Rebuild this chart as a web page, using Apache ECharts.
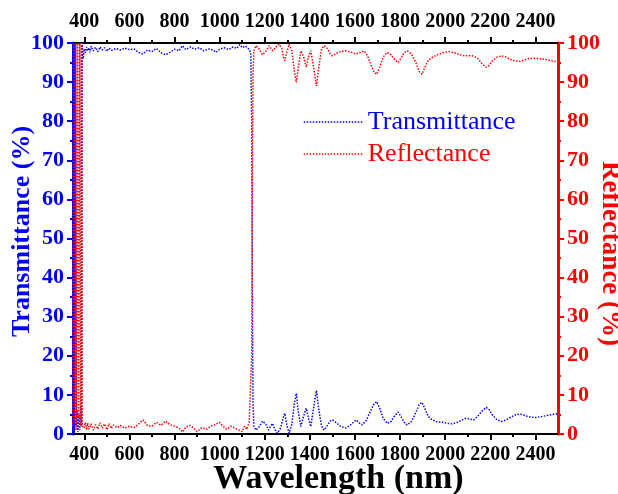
<!DOCTYPE html>
<html>
<head>
<meta charset="utf-8">
<style>
  html, body { margin: 0; padding: 0; background: #fff; }
  #chart { width: 618px; height: 494px; }
</style>
<script src="https://cdn.jsdelivr.net/npm/echarts@6/dist/echarts.min.js"></script>
</head>
<body>
<div id="chart"></div>
<script>
// Transmittance spectrum (%), wavelength in nm
const transWavelength = [
  350, 354, 358, 361, 364, 368, 372, 376, 380, 384, 388, 391, 395,
  400, 405, 410, 415, 420, 425, 430, 440, 450, 460, 470, 480, 490, 500, 510, 520, 540,
  560, 580, 600, 620, 640, 660, 680, 700, 720, 740, 760, 780, 800, 820, 835, 850, 870,
  890, 910, 930, 950, 970, 985, 1000, 1020, 1040, 1060, 1075, 1090, 1100, 1115, 1130,
  1138, 1142, 1145, 1148, 1152, 1161, 1175, 1190, 1197, 1205, 1217, 1226, 1234, 1245,
  1256, 1270, 1282, 1289, 1297, 1308, 1320, 1332, 1340, 1348, 1360, 1372, 1384, 1394,
  1404, 1416, 1429, 1440, 1452, 1463, 1478, 1490, 1500, 1515, 1535, 1559, 1580, 1605,
  1620, 1632, 1650, 1670, 1685, 1696, 1710, 1725, 1743, 1760, 1775, 1791, 1805, 1818,
  1831, 1850, 1870, 1885, 1897, 1910, 1925, 1942, 1965, 1990, 2010, 2030, 2055, 2075,
  2089, 2105, 2126, 2145, 2165, 2182, 2195, 2210, 2230, 2251, 2270, 2290, 2312, 2332,
  2350, 2370, 2399, 2430, 2460, 2487, 2500
];
const transValues = [
  3, 7, 1, 100, 2, 6, 0.5, 5, 1, 7, 2, 100, 96,
  98.5, 97.5, 99, 98, 98.8, 97.6, 99.2, 98, 98.9, 97.8, 99, 98.2, 98.8, 97.9, 98.7, 98.1, 98.6,
  98.2, 98.7, 98.3, 98.5, 97.6, 97.2, 98.2, 97.8, 98.6, 97.5, 97.0, 97.6, 98.4, 98.0, 99.3, 98.3, 99.0,
  98.4, 98.8, 98.0, 98.5, 98.2, 97.6, 98.4, 98.8, 98.3, 99.0, 98.6, 99.6, 98.8, 99.2, 98.4,
  97.5, 80, 40, 8, 2, 1, 1.8, 3.3, 3.6, 2.5, 1, 2, 2.7, 1.2,
  0.2, 1.5, 4.2, 5.3, 2.5, 0.2, 2.5, 8, 10.4, 6, 1.9, 4.5, 6.6, 4,
  1.9, 6.5, 11.1, 6, 2, 1, 2.2, 3.3, 3.6, 3, 2, 1.5, 2.3, 3.6,
  2.8, 2.3, 3.5, 6, 7.8, 8.3, 6.5, 4, 2.7, 3.2, 4.6, 5.6, 4.4, 3,
  2.3, 3.2, 5.5, 7.6, 8.1, 6.5, 4.5, 3.6, 3.1, 3.0, 2.7, 2.6, 3.0, 3.6,
  4.0, 3.9, 3.6, 4.6, 6.0, 6.8, 6.2, 4.8, 3.6, 3.2, 3.6, 4.3, 4.9, 5.1,
  4.8, 4.4, 4.2, 4.5, 4.8, 5.1, 5.2
];

// Reflectance spectrum (%), wavelength in nm
const reflWavelength = [
  350, 353, 357, 362, 366, 371, 375, 380, 384, 388, 391,
  395, 400, 405, 410, 415, 420, 430, 440, 450, 460, 470, 480, 490, 500, 510, 520, 530,
  545, 560, 580, 600, 620, 640, 660, 680, 700, 720, 740, 760, 780, 800, 820, 836, 850,
  870, 890, 900, 920, 944, 960, 980, 998, 1015, 1030, 1050, 1070, 1086, 1100, 1110, 1120,
  1131, 1138, 1142, 1145, 1148, 1152, 1161, 1175, 1190, 1197, 1207, 1219, 1228, 1236,
  1250, 1264, 1276, 1282, 1289, 1297, 1308, 1320, 1332, 1340, 1348, 1360, 1372, 1384,
  1394, 1404, 1416, 1429, 1440, 1452, 1463, 1478, 1490, 1500, 1515, 1535, 1559, 1580,
  1605, 1620, 1640, 1655, 1670, 1685, 1696, 1710, 1725, 1743, 1760, 1775, 1791, 1805,
  1818, 1831, 1850, 1870, 1885, 1897, 1910, 1925, 1942, 1965, 1990, 2015, 2040, 2065,
  2089, 2105, 2126, 2145, 2165, 2182, 2195, 2210, 2230, 2251, 2270, 2290, 2312, 2332,
  2350, 2370, 2399, 2430, 2460, 2487, 2500
];
const reflValues = [
  2, 100, 3, 100, 1, 100, 4, 100, 2, 100, 2,
  2.5, 1.5, 3, 1, 2.8, 1.2, 2.6, 1.0, 2.4, 1.3, 2.9, 1.5, 2.6, 1.1, 2.7, 1.4, 2.3,
  1.6, 2.2, 1.5, 2.0, 1.6, 2.5, 3.6, 2.2, 2.0, 3.0, 2.2, 3.3, 2.4, 2.0, 1.5, 0.5, 1.8,
  2.2, 1.2, 0.6, 1.6, 1.2, 2.0, 2.4, 3.0, 2.0, 1.2, 2.0, 1.4, 1.0, 0.6, 2.0, 1.2,
  3.0, 3.5, 20, 60, 92, 98, 99.3, 98.5, 97, 96.7, 98, 99.3, 98.6, 98,
  99, 99.7, 98.5, 96.5, 95.5, 97.5, 99.7, 98, 92.5, 89.9, 93.5, 98, 96.5, 93.8,
  96.5, 98, 94, 89, 94, 98.5, 99.3, 98.6, 97.2, 96.7, 97.3, 97.8, 98, 97.7,
  97.2, 97.5, 98, 96.8, 94.5, 92.5, 92, 93.8, 96.4, 97.6, 97, 95.8, 95, 96.2,
  97.5, 98, 97.2, 95, 92.7, 92, 93.8, 95.6, 96.3, 97, 97.5, 97.8, 97.5, 97,
  96.7, 96.8, 96.7, 96, 94.6, 93.8, 94.3, 95.5, 96.4, 96.7, 96.4, 95.8, 95.4, 95.3,
  95.6, 96, 96.1, 95.9, 95.6, 95.3, 95.2
];

// Axis tick positions
const xMajorTicks = [400, 600, 800, 1000, 1200, 1400, 1600, 1800, 2000, 2200, 2400];
const xMinorTicks = [500, 700, 900, 1100, 1300, 1500, 1700, 1900, 2100, 2300];

const BLUE = '#0000ff';
const RED = '#ff0000';
const FONT = '"Liberation Serif", "Times New Roman", serif';

const pairs = (xs, ys) => xs.map((x, i) => [x, ys[i]]);
const plain = (v) => String(v);

const chart = echarts.init(document.getElementById('chart'), null, { renderer: 'canvas' });

const tickLabel = {
  fontFamily: FONT, fontWeight: 'bold', fontSize: 20, color: '#000'
};

function xAxisDef(position, ticks, length, withLabels, extra) {
  return Object.assign({
    type: 'value', min: 350, max: 2500, position: position,
    splitLine: { show: false },
    axisLine: { show: withLabels, onZero: false, lineStyle: { color: '#000', width: 2 } },
    axisTick: { show: true, inside: false, customValues: ticks, length: length,
                lineStyle: { color: '#000', width: 2 } },
    axisLabel: withLabels
      ? Object.assign({ customValues: ticks, margin: 11, formatter: plain, hideOverlap: false }, tickLabel)
      : { show: false }
  }, extra || {});
}

const option = {
  animation: false,
  backgroundColor: '#fff',
  grid: { left: 73, right: 60, top: 43, bottom: 60, containLabel: false, outerBoundsMode: 'none' },
  legend: {
    orient: 'vertical',
    left: 298, top: 104,
    itemWidth: 59, itemHeight: 12, itemGap: 6, itemTextGap: 7,
    itemStyle: { opacity: 0 },
    lineStyle: { width: 1.5 },
    textStyle: { fontFamily: FONT, fontSize: 26 },
    data: [
      { name: 'Transmittance', textStyle: { color: BLUE } },
      { name: 'Reflectance', textStyle: { color: RED } }
    ]
  },
  xAxis: [
    xAxisDef('bottom', xMajorTicks, 6, true, {
      name: 'Wavelength (nm)', nameLocation: 'middle', nameGap: 28, nameMoveOverlap: false,
      nameTextStyle: { fontFamily: FONT, fontWeight: 'bold', fontSize: 34, color: '#000',
                       padding: [0, 0, 0, 46] }
    }),
    xAxisDef('bottom', xMinorTicks, 3, false),
    xAxisDef('top', xMajorTicks, 6, true),
    xAxisDef('top', xMinorTicks, 3, false)
  ],
  yAxis: [
    {
      type: 'value', min: 0, max: 100, interval: 10, position: 'left',
      splitLine: { show: false },
      axisLine: { show: true, lineStyle: { color: BLUE, width: 3 } },
      axisTick: { show: true, inside: false, length: 6, lineStyle: { color: BLUE, width: 2 } },
      minorTick: { show: true, splitNumber: 2, length: 3, lineStyle: { color: BLUE, width: 2 } },
      axisLabel: Object.assign({}, tickLabel, { color: BLUE, fontSize: 22, margin: 9 }),
      name: 'Transmittance (%)', nameLocation: 'middle', nameGap: 38, nameMoveOverlap: false,
      nameTextStyle: { fontFamily: FONT, fontWeight: 'bold', fontSize: 26, color: BLUE,
                       padding: [0, 0, 0, 14] }
    },
    {
      type: 'value', min: 0, max: 100, interval: 10, position: 'right',
      splitLine: { show: false },
      axisLine: { show: true, lineStyle: { color: RED, width: 3 } },
      axisTick: { show: true, inside: false, length: 6, lineStyle: { color: RED, width: 2 } },
      minorTick: { show: true, splitNumber: 2, length: 3, lineStyle: { color: RED, width: 2 } },
      axisLabel: Object.assign({}, tickLabel, { color: RED, fontSize: 22, margin: 9 }),
      name: 'Reflectance (%)', nameLocation: 'middle', nameGap: 38, nameRotate: -90,
      nameMoveOverlap: false,
      nameTextStyle: { fontFamily: FONT, fontWeight: 'bold', fontSize: 27, color: RED,
                       padding: [0, 0, 0, 30] }
    }
  ],
  series: [
    {
      name: 'Transmittance', type: 'line', xAxisIndex: 0, yAxisIndex: 0,
      data: pairs(transWavelength, transValues),
      symbol: 'none', showSymbol: false, clip: true,
      lineStyle: { color: BLUE, width: 1.5, type: 'dotted' },
      itemStyle: { color: BLUE }
    },
    {
      name: 'Reflectance', type: 'line', xAxisIndex: 0, yAxisIndex: 1,
      data: pairs(reflWavelength, reflValues),
      symbol: 'none', showSymbol: false, clip: true,
      lineStyle: { color: RED, width: 1.5, type: 'dotted' },
      itemStyle: { color: RED }
    }
  ]
};

chart.setOption(option);
</script>
</body>
</html>
